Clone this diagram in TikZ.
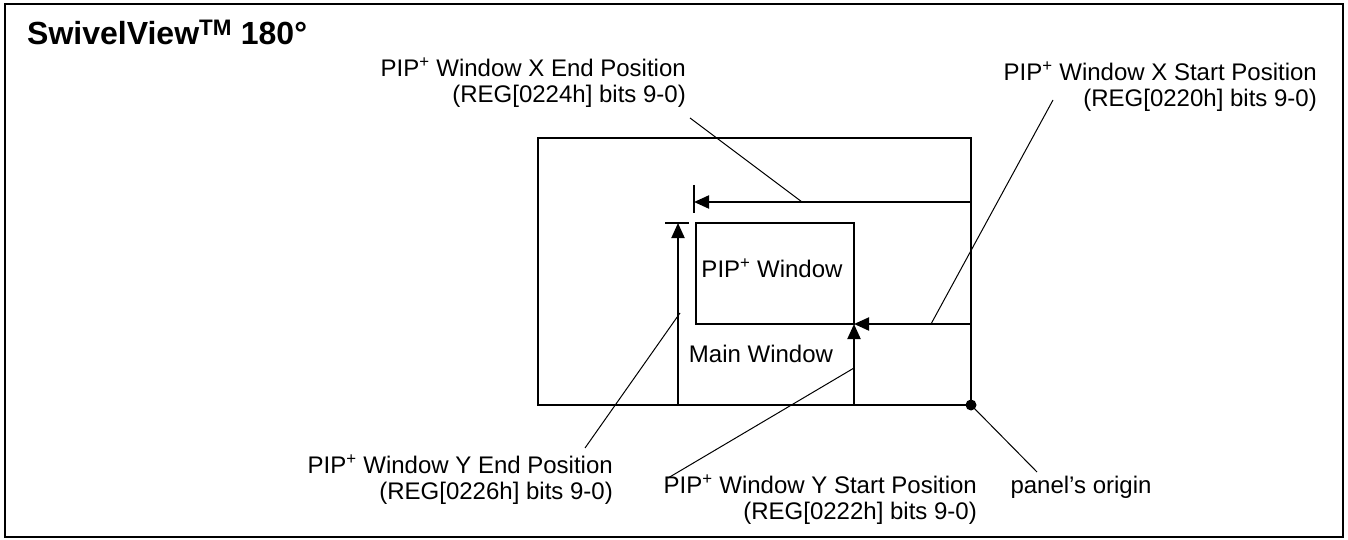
\documentclass[tikz,border=0pt]{standalone}
\usepackage{fontspec}
\setmainfont{Liberation Sans}
\usetikzlibrary{arrows.meta}
\begin{document}
\begin{tikzpicture}[x=1pt,y=-1pt,
  frame/.style={line width=2pt},
  dimarrow/.style={line width=2pt,-{Triangle[length=15pt,width=13pt]}},
  tick/.style={line width=2pt},
  leader/.style={line width=1pt},
  lbl/.style={inner sep=0pt,align=right,font=\fontsize{24}{26}\selectfont},
  txt/.style={inner sep=0pt,font=\fontsize{24}{26}\selectfont}]
\useasboundingbox (0,0) rectangle (1348,540);
\draw[frame] (5,4) rectangle (1343,537);
\node[inner sep=0pt,anchor=base west,font=\fontsize{32}{34}\selectfont\bfseries] (title) at (27,45) {SwivelView\textsuperscript{TM} 180°};
% main window and PIP window
\coordinate (mTL) at (538,138);
\coordinate (mBR) at (971,405);
\draw[frame] (mTL) rectangle (mBR);
\coordinate (pTL) at (696,223);
\coordinate (pBR) at (854,324);
\draw[frame] (pTL) rectangle (pBR);
\node[txt] (pipw) at (772,268) {PIP\textsuperscript{+} Window};
\node[txt] (mainw) at (761,354) {Main Window};
% dimension arrows
\coordinate (xe0) at (971,202); \coordinate (xe1) at (694,202);
\draw[dimarrow] (xe0) -- (xe1);
\coordinate (xt0) at (694,185); \coordinate (xt1) at (694,213);
\draw[tick] (xt0) -- (xt1);
\coordinate (ye0) at (678,405); \coordinate (ye1) at (678,223);
\draw[dimarrow] (ye0) -- (ye1);
\coordinate (yt0) at (665,223); \coordinate (yt1) at (689,223);
\draw[tick] (yt0) -- (yt1);
\coordinate (xs0) at (971,324); \coordinate (xs1) at (854,324);
\draw[dimarrow] (xs0) -- (xs1);
\coordinate (ys0) at (854,405); \coordinate (ys1) at (854,324);
\draw[dimarrow] (ys0) -- (ys1);
\coordinate (origin) at (971,405);
\fill (origin) circle (5.5);
% labels
\node[lbl,anchor=east] (xend) at (686,83) {PIP\textsuperscript{+} Window X End Position\\(REG[0224h] bits 9-0)};
\node[lbl,anchor=east] (xstart) at (1317,87) {PIP\textsuperscript{+} Window X Start Position\\(REG[0220h] bits 9-0)};
\node[lbl,anchor=east] (yend) at (613,480) {PIP\textsuperscript{+} Window Y End Position\\(REG[0226h] bits 9-0)};
\node[lbl,anchor=east] (ystart) at (977,500) {PIP\textsuperscript{+} Window Y Start Position\\(REG[0222h] bits 9-0)};
\node[txt] (porig) at (1081,487) {panel’s origin};
% leaders
\coordinate (l1a) at (690,118); \coordinate (l1b) at (802,202);
\draw[leader] (l1a) -- (l1b);
\coordinate (l2a) at (1053,100); \coordinate (l2b) at (931,324);
\draw[leader] (l2a) -- (l2b);
\coordinate (l3a) at (680,313); \coordinate (l3b) at (585,448);
\draw[leader] (l3a) -- (l3b);
\coordinate (l4a) at (854,368); \coordinate (l4b) at (668,478);
\draw[leader] (l4a) -- (l4b);
\coordinate (l5b) at (1037,472);
\draw[leader] (origin) -- (l5b);
\end{tikzpicture}
\end{document}
